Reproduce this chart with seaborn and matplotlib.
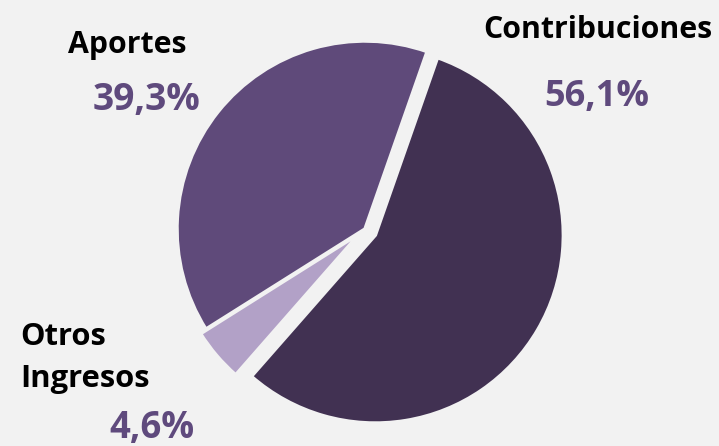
import matplotlib
matplotlib.use("Agg")
import matplotlib.pyplot as plt
import seaborn as sns

categories = ["Contribuciones", "Otros\nIngresos", "Aportes"]
values = [56.1, 4.6, 39.3]
pct_labels = ["56,1%", "4,6%", "39,3%"]
colors = ["#413152", "#b2a1c7", "#5f4a7a"]

sns.set_theme(style="white")
plt.rcParams["font.family"] = ["Open Sans", "DejaVu Sans"]

BG = "#f2f2f2"
fig = plt.figure(figsize=(7.19, 4.46), dpi=100, facecolor=BG)
ax = fig.add_axes([0, 0, 1, 1])
ax.set_facecolor(BG)

ax.pie(values, colors=colors, startangle=70.7, counterclock=False,
       center=(365, 446 - 229), radius=188, explode=[12, 7, 0],
       wedgeprops=dict(edgecolor=BG, linewidth=2.5), frame=True)
ax.set_xlim(0, 719)
ax.set_ylim(0, 446)
ax.set_axis_off()

name_kw = dict(fontweight="bold", color="black")
pct_kw = dict(fontweight="bold", color="#5f4a7d")

fig.canvas.draw()
renderer = fig.canvas.get_renderer()

def fit(t, target_w):
    bb = t.get_window_extent(renderer)
    t.set_fontsize(t.get_fontsize() * target_w / bb.width)

t1 = ax.text(598, 446 - 30, categories[0], ha="center", va="center", fontsize=16, **name_kw)
fit(t1, 230)
t2 = ax.text(597, 446 - 97, pct_labels[0], ha="center", va="center", fontsize=20, **pct_kw)
fit(t2, 105)
t3 = ax.text(127, 446 - 45, categories[2], ha="center", va="center", fontsize=16, **name_kw)
fit(t3, 119)
t4 = ax.text(146, 446 - 100, pct_labels[2], ha="center", va="center", fontsize=20, **pct_kw)
fit(t4, 108)
t5 = ax.text(20, 446 - 358, categories[1], ha="left", va="center", linespacing=1.5, fontsize=16, **name_kw)
fit(t5, 130)
t6 = ax.text(152, 446 - 428, pct_labels[1], ha="center", va="center", fontsize=20, **pct_kw)
fit(t6, 85)

fig.savefig("out.png", dpi=100, facecolor=BG)
